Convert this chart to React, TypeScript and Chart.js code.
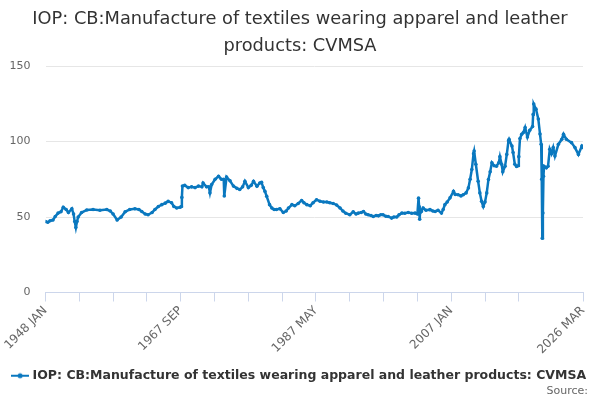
import { useEffect, useRef } from 'react';
import { Chart, registerables } from 'chart.js';

Chart.register(...registerables);

const SERIES_NAME = 'IOP: CB:Manufacture of textiles wearing apparel and leather products: CVMSA';
const TITLE_LINES = ['IOP: CB:Manufacture of textiles wearing apparel and leather', 'products: CVMSA'];
const SOURCE_TEXT = 'Source:';

const sampleMonths = [
  '1948-01', '1948-05', '1948-09', '1949-02', '1949-06', '1949-11', '1950-04', '1950-08', '1951-01', '1951-05',
  '1951-11', '1952-02', '1952-04', '1952-06', '1952-08', '1952-10', '1953-04', '1954-01', '1954-12', '1955-12',
  '1956-12', '1957-06', '1957-11', '1958-06', '1959-01', '1959-08', '1960-04', '1961-01', '1961-08', '1962-01',
  '1962-07', '1962-12', '1963-07', '1963-12', '1964-06', '1964-12', '1965-06', '1965-11', '1966-05', '1966-09',
  '1967-02', '1967-08', '1967-10', '1967-11', '1967-12', '1968-04', '1968-10', '1969-04', '1969-10', '1970-04',
  '1970-10', '1970-12', '1971-06', '1971-10', '1971-12', '1972-03', '1972-09', '1973-03', '1973-08', '1973-12',
  '1974-01', '1974-05', '1974-11', '1975-05', '1975-11', '1976-04', '1976-09', '1977-01', '1977-07', '1977-12',
  '1978-04', '1978-10', '1979-03', '1979-06', '1979-09', '1979-12', '1980-03', '1980-08', '1980-12', '1981-04',
  '1981-08', '1982-02', '1982-08', '1983-01', '1983-05', '1983-11', '1984-04', '1984-10', '1985-04', '1985-08',
  '1986-01', '1986-07', '1986-12', '1987-06', '1987-12', '1988-06', '1988-12', '1989-05', '1989-11', '1990-05',
  '1990-11', '1991-04', '1991-09', '1992-04', '1992-10', '1993-03', '1993-07', '1993-12', '1994-04', '1994-08',
  '1994-12', '1995-05', '1995-09', '1996-02', '1996-06', '1996-10', '1997-02', '1997-07', '1997-11', '1998-05',
  '1998-09', '1999-02', '1999-06', '1999-11', '2000-04', '2000-10', '2001-04', '2001-10', '2002-02', '2002-04',
  '2002-05', '2002-06', '2002-07', '2002-09', '2002-12', '2003-05', '2003-12', '2004-05', '2004-09', '2005-02',
  '2005-08', '2005-11', '2006-02', '2006-06', '2006-11', '2007-05', '2007-08', '2008-01', '2008-06', '2008-10',
  '2009-03', '2009-07', '2009-10', '2010-01', '2010-04', '2010-05', '2010-08', '2010-12', '2011-03', '2011-06',
  '2011-09', '2011-12', '2012-03', '2012-06', '2012-09', '2012-12', '2013-04', '2013-08', '2013-12', '2014-02',
  '2014-05', '2014-07', '2014-11', '2015-02', '2015-05', '2015-06', '2015-11', '2016-01', '2016-04', '2016-07',
  '2016-10', '2016-11', '2017-01', '2017-04', '2017-07', '2017-10', '2018-02', '2018-06', '2018-11', '2018-12',
  '2019-01', '2019-05', '2019-09', '2019-12', '2020-02', '2020-03', '2020-04', '2020-05', '2020-06', '2020-07',
  '2020-11', '2021-02', '2021-05', '2021-08', '2021-11', '2022-02', '2022-08', '2023-02', '2023-05', '2023-10',
  '2024-07', '2025-01', '2025-07', '2026-01', '2026-03',
];

const indexValues = [
  47, 46.5, 47.5, 48, 50.4, 52.6, 53.5, 56.5, 55, 53,
  55.5, 52, 47, 43, 47, 50, 53, 54.7, 55, 54.5,
  55, 54, 52, 48, 50, 53.5, 55, 55.5, 55, 53.7,
  52, 51.5, 53, 55, 57, 58.2, 59.2, 60.4, 59.5, 57,
  56, 56.5, 57, 63, 70.5, 71, 69.5, 70, 69.5, 70.5,
  70, 72.6, 70, 70, 66, 71.5, 75, 77, 75, 75,
  64, 76.5, 74, 70.5, 69, 68.2, 70, 73.7, 69.5, 71,
  73.7, 70.4, 72.6, 73, 69.5, 67, 63.7, 58.2, 56, 55,
  55, 55.5, 53, 54, 56, 58.2, 57.5, 59, 61, 59.5,
  58.2, 57.5, 59.5, 61.5, 60.5, 60, 60, 59.5, 59, 58,
  56, 54, 52.5, 51.5, 53.5, 52, 52.6, 53, 53.7, 52,
  51.5, 51, 50.4, 51, 50.8, 51.5, 51.5, 50.5, 50.4, 49.3,
  50, 50, 51.5, 52.6, 52.5, 53, 52.5, 52.6, 52, 62.5,
  57, 48.5, 55, 53.7, 56, 54.5, 54.9, 54, 53.7, 54.5,
  52.6, 55, 58.2, 60, 62.7, 67, 65, 64.8, 64, 64.8,
  66, 69.3, 75, 81.5, 92, 93.7, 85, 73.7, 66, 60.4,
  57, 60, 66, 74.9, 80, 86, 84, 83.7, 86, 90,
  85, 80, 83.7, 91.5, 100.5, 101.5, 97, 92.7, 85, 83.5,
  84, 90, 102, 104.9, 106, 109.3, 103, 107.5, 110, 118,
  124.9, 121.5, 115, 105, 98.2, 75, 36, 52.7, 77, 83.7,
  82.6, 83.7, 94.9, 92, 96, 90.4, 98.2, 101.5, 104.9, 101.5,
  99.3, 96, 91.5, 97, 96,
];

const firstMonth = '1948-01';
const lastMonth = '2026-03';
const tickStepMonths = 59;
const labelledMonths = ['1948-01', '1967-09', '1987-05', '2007-01', '2026-03'];
const tickLabels = ['1948 JAN', '1967 SEP', '1987 MAY', '2007 JAN', '2026 MAR'];

const LINE_COLOR = '#0a78bf';
const FONT = '"DejaVu Sans", sans-serif';

function monthIndex(ym: string) {
  const [y, m] = ym.split('-').map(Number);
  const [y0, m0] = firstMonth.split('-').map(Number);
  return (y - y0) * 12 + (m - m0);
}

function legendSymbol() {
  const c = document.createElement('canvas');
  c.width = 18;
  c.height = 8;
  const ctx = c.getContext('2d')!;
  ctx.strokeStyle = LINE_COLOR;
  ctx.lineWidth = 2;
  ctx.beginPath();
  ctx.moveTo(0, 4);
  ctx.lineTo(18, 4);
  ctx.stroke();
  ctx.fillStyle = LINE_COLOR;
  ctx.beginPath();
  ctx.arc(9, 4, 2.5, 0, Math.PI * 2);
  ctx.fill();
  return c;
}

// small "Source:" note in the bottom right corner
const sourceNote = {
  id: 'sourceNote',
  afterDraw(chart: Chart) {
    const ctx = chart.ctx;
    ctx.save();
    ctx.font = `11px ${FONT}`;
    ctx.fillStyle = '#666666';
    ctx.textAlign = 'right';
    ctx.textBaseline = 'middle';
    ctx.fillText(SOURCE_TEXT, 588, 391);
    ctx.restore();
  }
};

export default function App() {
  const canvasRef = useRef<HTMLCanvasElement>(null);

  useEffect(() => {
    if (!canvasRef.current) return;
    const points = sampleMonths.map((m, i) => ({ x: monthIndex(m), y: indexValues[i] }));
    const endIdx = monthIndex(lastMonth);
    const labelMap = new Map<number, string>();
    labelledMonths.forEach((m, i) => labelMap.set(monthIndex(m), tickLabels[i]));
    const symbol = legendSymbol();

    const chart = new Chart(canvasRef.current, {
      type: 'line',
      data: {
        datasets: [{
          label: SERIES_NAME,
          data: points,
          borderColor: LINE_COLOR,
          backgroundColor: LINE_COLOR,
          borderWidth: 2.5,
          pointRadius: 1.8,
          pointBorderWidth: 0,
          pointStyle: 'circle',
          tension: 0,
          yAxisID: 'y',
        }]
      },
      plugins: [sourceNote],
      options: {
        responsive: false,
        animation: false,
        layout: { padding: { left: 0, right: 0, top: 0, bottom: 8 } },
        plugins: {
          title: {
            display: true,
            text: TITLE_LINES,
            color: '#333333',
            font: { family: FONT, size: 17.8, weight: 'normal', lineHeight: 1.52 },
            padding: { top: 6, bottom: 6 },
          },
          legend: {
            position: 'bottom',
            labels: {
              usePointStyle: true,
              generateLabels: () => [{
                text: SERIES_NAME,
                pointStyle: symbol,
                fillStyle: LINE_COLOR,
                strokeStyle: LINE_COLOR,
                lineWidth: 0,
                datasetIndex: 0,
                fontColor: '#333333',
              } as any],
              color: '#333333',
              font: { family: FONT, size: 12.5, weight: 'bold' },
              padding: 6,
            },
          },
          tooltip: { enabled: false },
        },
        scales: {
          x: {
            type: 'linear',
            min: 0,
            max: endIdx,
            afterBuildTicks: (scale: any) => {
              const ticks = [];
              for (let v = 0; v <= endIdx - tickStepMonths + 5; v += tickStepMonths) ticks.push({ value: v });
              ticks.push({ value: endIdx });
              scale.ticks = ticks;
            },
            afterFit: (scale: any) => { scale.height = 71; },
            ticks: {
              autoSkip: false,
              minRotation: 45,
              maxRotation: 45,
              padding: 2,
              color: '#666666',
              font: { family: FONT, size: 12 },
              callback: (v: any) => labelMap.get(Number(v)) ?? '',
            },
            grid: {
              drawOnChartArea: false,
              drawTicks: true,
              tickLength: 9,
              color: '#ccd6eb',
            },
            border: { color: '#ccd6eb' },
          },
          y: {
            position: 'left',
            min: 0,
            max: 150,
            afterFit: (scale: any) => { scale.width = 45.5; },
            ticks: {
              stepSize: 50,
              padding: 15,
              color: '#666666',
              font: { family: FONT, size: 11 },
            },
            grid: { color: '#e6e6e6', drawTicks: false },
            border: { display: false },
          },
          // empty right-hand margin so the title and legend stay centred on the canvas
          spacer: {
            position: 'right',
            min: 0,
            max: 150,
            afterFit: (scale: any) => { scale.width = 17; },
            ticks: { display: false },
            grid: { display: false, drawTicks: false },
            border: { display: false },
          },
        },
      },
    });

    return () => chart.destroy();
  }, []);

  return (
    <div style={{ position: 'fixed', left: 0, top: 0, width: 600, height: 400, background: '#ffffff' }}>
      <canvas ref={canvasRef} width={600} height={400} style={{ width: 600, height: 400 }} />
    </div>
  );
}
